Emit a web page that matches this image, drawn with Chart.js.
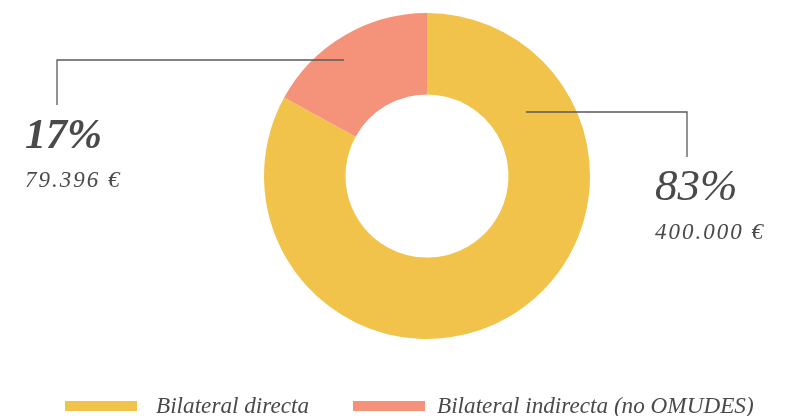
<!DOCTYPE html>
<html>
<head>
<meta charset="utf-8">
<script src="https://cdn.jsdelivr.net/npm/chart.js@4.4.1/dist/chart.umd.min.js"></script>
<style>
  html, body { margin: 0; padding: 0; background: #fff; }
  #wrap { width: 785px; height: 416px; }
</style>
</head>
<body>
<div id="wrap"><canvas id="chart" width="785" height="416"></canvas></div>
<script>
// Data
const labels = ["Bilateral directa", "Bilateral indirecta (no OMUDES)"];
const percents = [83, 17];
const amounts = [400000, 79396];
const colors = ["#F2C34A", "#F4927A"];

const textColor = "#4a4a4a";
const lineColor = "#5a5a5a";

// thousands separator with dots, e.g. 79396 -> "79.396"
const fmt = (n) => String(n).replace(/\B(?=(\d{3})+(?!\d))/g, ".") + " €";

// callout geometry, relative to the doughnut centre
const callouts = [
  { from: [99, -64], elbowX: 260, endY: -19, bigWeight: "normal", bigSize: 45 },
  { from: [-83, -116], elbowX: -370, endY: -71, bigWeight: "bold", bigSize: 42 }
];

const calloutPlugin = {
  id: "callouts",
  afterDatasetsDraw(chart) {
    const ctx = chart.ctx;
    const arcs = chart.getDatasetMeta(0).data;
    ctx.save();
    arcs.forEach((arc, i) => {
      const c = callouts[i];
      const cx = arc.x, cy = arc.y;
      const sx = cx + c.from[0], sy = cy + c.from[1];
      const ex = cx + c.elbowX, ey = cy + c.endY;
      ctx.strokeStyle = lineColor;
      ctx.lineWidth = 1.3;
      ctx.beginPath();
      ctx.moveTo(sx, sy);
      ctx.lineTo(ex, sy);
      ctx.lineTo(ex, ey);
      ctx.stroke();

      const tx = ex - 32;
      ctx.fillStyle = textColor;
      ctx.textAlign = "left";
      ctx.textBaseline = "alphabetic";
      ctx.letterSpacing = "0px";
      ctx.font = "italic " + c.bigWeight + " " + c.bigSize + "px 'Liberation Serif'";
      ctx.fillText(percents[i] + "%", tx, ey + 43);
      ctx.letterSpacing = "2px";
      ctx.font = "italic 23px 'Liberation Serif'";
      ctx.fillText(fmt(amounts[i]), tx, ey + 82);
    });
    ctx.restore();
  }
};

// legend drawn by hand: bar, then label
const legendBoxes = [{ bar: 65, text: 156 }, { bar: 353, text: 437 }];

const legendPlugin = {
  id: "customLegend",
  afterDraw(chart) {
    const ctx = chart.ctx;
    ctx.save();
    ctx.font = "italic 23.2px 'Liberation Serif'";
    ctx.textBaseline = "alphabetic";
    labels.forEach((lab, i) => {
      const b = legendBoxes[i];
      ctx.fillStyle = colors[i];
      ctx.fillRect(b.bar, 401, 72, 10);
      ctx.fillStyle = textColor;
      ctx.fillText(lab, b.text, 413);
    });
    ctx.restore();
  }
};

new Chart(document.getElementById("chart"), {
  type: "doughnut",
  data: {
    labels: labels,
    datasets: [{
      data: percents,
      backgroundColor: colors,
      borderWidth: 0,
      hoverOffset: 0
    }]
  },
  options: {
    responsive: false,
    animation: false,
    cutout: "50%",
    layout: { padding: { top: 13, bottom: 77, left: 69, right: 0 } },
    plugins: {
      legend: { display: false },
      tooltip: { enabled: false }
    }
  },
  plugins: [calloutPlugin, legendPlugin]
});
</script>
</body>
</html>
